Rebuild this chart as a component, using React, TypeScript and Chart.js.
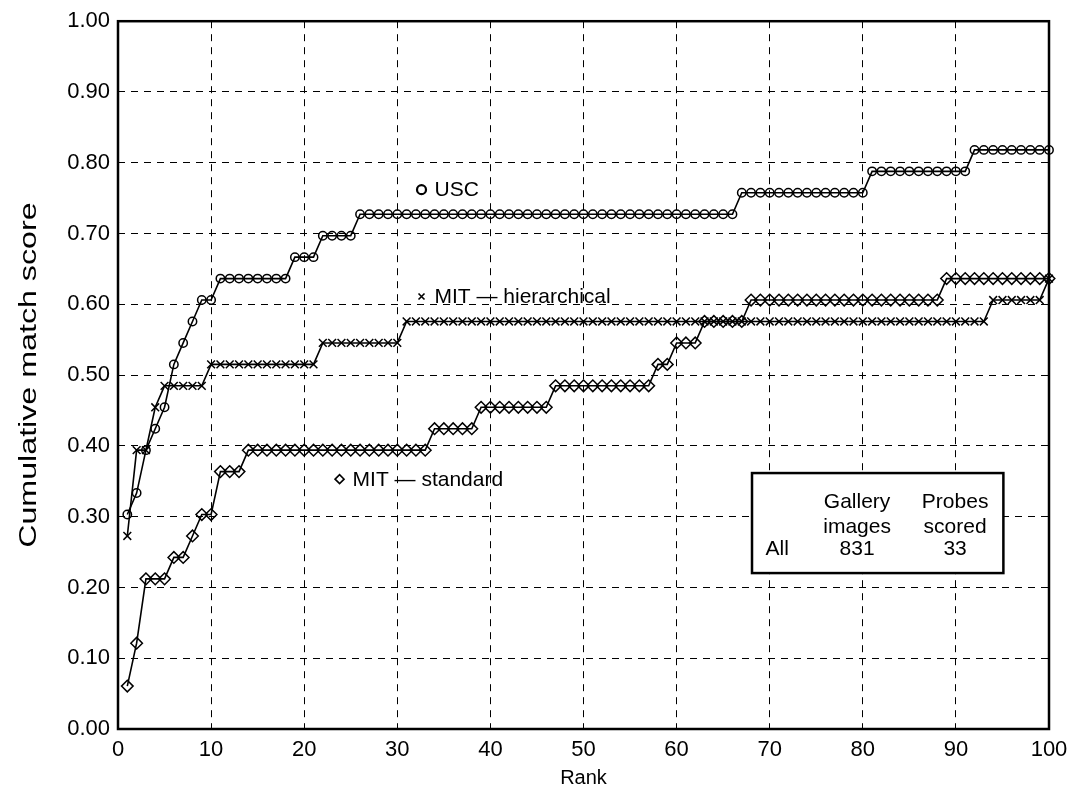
import React, { useEffect, useRef } from "react";
import { Chart, registerables } from "chart.js";

Chart.register(...registerables);

// Rank axis (1..100) and the number of probes correctly identified within each rank.
const ranks: number[] = Array.from({ length: 100 }, (_, i) => i + 1);
const probesScored = 33;
const galleryImages = 831;

const uscHits = [
  10, 11, 13, 14, 15, 17, 18, 19, 20, 20,
  21, 21, 21, 21, 21, 21, 21, 21, 22, 22,
  22, 23, 23, 23, 23, 24, 24, 24, 24, 24,
  24, 24, 24, 24, 24, 24, 24, 24, 24, 24,
  24, 24, 24, 24, 24, 24, 24, 24, 24, 24,
  24, 24, 24, 24, 24, 24, 24, 24, 24, 24,
  24, 24, 24, 24, 24, 24, 25, 25, 25, 25,
  25, 25, 25, 25, 25, 25, 25, 25, 25, 25,
  26, 26, 26, 26, 26, 26, 26, 26, 26, 26,
  26, 27, 27, 27, 27, 27, 27, 27, 27, 27,
];

const mitHierarchicalHits = [
  9, 13, 13, 15, 16, 16, 16, 16, 16, 17,
  17, 17, 17, 17, 17, 17, 17, 17, 17, 17,
  17, 18, 18, 18, 18, 18, 18, 18, 18, 18,
  19, 19, 19, 19, 19, 19, 19, 19, 19, 19,
  19, 19, 19, 19, 19, 19, 19, 19, 19, 19,
  19, 19, 19, 19, 19, 19, 19, 19, 19, 19,
  19, 19, 19, 19, 19, 19, 19, 19, 19, 19,
  19, 19, 19, 19, 19, 19, 19, 19, 19, 19,
  19, 19, 19, 19, 19, 19, 19, 19, 19, 19,
  19, 19, 19, 20, 20, 20, 20, 20, 20, 21,
];

const mitStandardHits = [
  2, 4, 7, 7, 7, 8, 8, 9, 10, 10,
  12, 12, 12, 13, 13, 13, 13, 13, 13, 13,
  13, 13, 13, 13, 13, 13, 13, 13, 13, 13,
  13, 13, 13, 14, 14, 14, 14, 14, 15, 15,
  15, 15, 15, 15, 15, 15, 16, 16, 16, 16,
  16, 16, 16, 16, 16, 16, 16, 17, 17, 18,
  18, 18, 19, 19, 19, 19, 19, 20, 20, 20,
  20, 20, 20, 20, 20, 20, 20, 20, 20, 20,
  20, 20, 20, 20, 20, 20, 20, 20, 21, 21,
  21, 21, 21, 21, 21, 21, 21, 21, 21, 21,
];

const rankTicks = [0, 10, 20, 30, 40, 50, 60, 70, 80, 90, 100];
const scoreTicks = [0, 0.1, 0.2, 0.3, 0.4, 0.5, 0.6, 0.7, 0.8, 0.9, 1.0];

const xAxisTitle = "Rank";
const yAxisTitle = "Cumulative match score";

// In-plot series labels, anchored in data space (rank, score).
const seriesNames = ["USC", "MIT \u2014 hierarchical", "MIT \u2014 standard"];
const seriesMarkers = ["circle", "cross", "diamond"];
const labelRanks = [32.6, 32.6, 23.8];
const labelScores = [0.762, 0.611, 0.353];

// Summary table corners in data space.
const tableRanks = [68.1, 95.1];
const tableScores = [0.2203, 0.3616];
const tableHeader = [["", ""], ["Gallery", "images"], ["Probes", "scored"]];
const tableRow = ["All", String(galleryImages), String(probesScored)];

const FONT = "'Liberation Sans', Arial, Helvetica, sans-serif";

const toPoints = (hits: number[]) =>
  hits.map((h, i) => ({ x: ranks[i], y: h / probesScored }));

function drawMarker(ctx: CanvasRenderingContext2D, kind: string, x: number, y: number) {
  ctx.save();
  ctx.strokeStyle = "#000";
  ctx.beginPath();
  if (kind === "circle") {
    ctx.lineWidth = 2.2;
    ctx.arc(x, y, 4.5, 0, Math.PI * 2);
  } else if (kind === "cross") {
    ctx.lineWidth = 1.6;
    const s = 3;
    ctx.moveTo(x - s, y - s);
    ctx.lineTo(x + s, y + s);
    ctx.moveTo(x + s, y - s);
    ctx.lineTo(x - s, y + s);
  } else {
    ctx.lineWidth = 1.6;
    const s = 4.5;
    ctx.moveTo(x - s, y);
    ctx.lineTo(x, y - s);
    ctx.lineTo(x + s, y);
    ctx.lineTo(x, y + s);
    ctx.closePath();
  }
  ctx.stroke();
  ctx.restore();
}

const overlayPlugin = {
  id: "overlay",
  afterDatasetsDraw(chart: any) {
    const { ctx, chartArea, scales } = chart;
    const xs = scales.x;
    const ys = scales.y;
    ctx.save();

    // Frame around the plotting area
    ctx.strokeStyle = "#000";
    ctx.lineWidth = 2.5;
    ctx.strokeRect(
      chartArea.left,
      chartArea.top,
      chartArea.right - chartArea.left,
      chartArea.bottom - chartArea.top
    );

    // Series labels with their marker glyphs
    ctx.font = `21px ${FONT}`;
    ctx.fillStyle = "#000";
    ctx.textBaseline = "middle";
    ctx.textAlign = "left";
    seriesNames.forEach((name, i) => {
      const px = xs.getPixelForValue(labelRanks[i]);
      const py = ys.getPixelForValue(labelScores[i]);
      drawMarker(ctx, seriesMarkers[i], px, py);
      ctx.fillText(name, px + 13, py + 1);
    });

    // Summary table
    const left = xs.getPixelForValue(tableRanks[0]);
    const right = xs.getPixelForValue(tableRanks[1]);
    const top = ys.getPixelForValue(tableScores[1]);
    const bottom = ys.getPixelForValue(tableScores[0]);
    const w = right - left;
    const h = bottom - top;
    ctx.fillStyle = "#fff";
    ctx.fillRect(left, top, w, h);
    ctx.strokeStyle = "#000";
    ctx.lineWidth = 2.5;
    ctx.strokeRect(left, top, w, h);

    const colCenters = [0.1, 0.418, 0.808].map((f) => left + f * w);
    const rowCenters = [0.29, 0.54, 0.765].map((f) => top + f * h);
    ctx.fillStyle = "#000";
    ctx.textAlign = "center";
    ctx.font = `21px ${FONT}`;
    tableHeader.forEach((lines, c) => {
      lines.forEach((t, r) => {
        if (t) ctx.fillText(t, colCenters[c], rowCenters[r]);
      });
    });
    tableRow.forEach((t, c) => ctx.fillText(t, colCenters[c], rowCenters[2]));

    // Vertical axis title, set in a narrow (condensed) face
    const midY = (chartArea.top + chartArea.bottom) / 2;
    ctx.save();
    ctx.translate(30, midY);
    ctx.rotate(-Math.PI / 2);
    ctx.scale(1.4, 1);
    ctx.font = `23px ${FONT}`;
    ctx.textAlign = "center";
    ctx.textBaseline = "middle";
    ctx.fillText(yAxisTitle, 0, 0);
    ctx.restore();

    ctx.restore();
  },
};

export default function App() {
  const canvasRef = useRef<HTMLCanvasElement>(null);

  useEffect(() => {
    const canvas = canvasRef.current;
    if (!canvas) return;

    const lineStyle = {
      showLine: true,
      borderColor: "#000",
      borderWidth: 1.6,
      pointBorderColor: "#000",
      pointBackgroundColor: "rgba(0,0,0,0)",
      pointBorderWidth: 1.5,
      tension: 0,
      clip: false as const,
    };

    const chart = new Chart(canvas, {
      type: "scatter",
      data: {
        datasets: [
          {
            ...lineStyle,
            label: seriesNames[0],
            data: toPoints(uscHits),
            pointStyle: "circle",
            pointRadius: 4.2,
          },
          {
            ...lineStyle,
            label: seriesNames[1],
            data: toPoints(mitHierarchicalHits),
            pointStyle: "crossRot",
            pointRadius: 5.5,
          },
          {
            ...lineStyle,
            label: seriesNames[2],
            data: toPoints(mitStandardHits),
            pointStyle: "rectRot",
            pointRadius: 5.8,
          },
        ],
      },
      options: {
        responsive: false,
        animation: false,
        devicePixelRatio: 1,
        layout: { padding: { left: 0, right: 30, top: 21, bottom: 0 } },
        plugins: {
          legend: { display: false },
          tooltip: { enabled: false },
        },
        scales: {
          x: {
            type: "linear",
            min: 0,
            max: 100,
            afterBuildTicks: (s: any) => {
              s.ticks = rankTicks.map((v) => ({ value: v }));
            },
            afterFit: (s: any) => {
              s.height = 68;
            },
            grid: { color: "#000", lineWidth: 1, drawTicks: false },
            border: { display: false, dash: [7, 6] },
            ticks: {
              color: "#000",
              font: { family: FONT, size: 22 },
              padding: 8,
              maxRotation: 0,
              autoSkip: false,
            },
            title: {
              display: true,
              text: xAxisTitle,
              color: "#000",
              font: { family: FONT, size: 20 },
              padding: { top: 0, bottom: 7 },
            },
          },
          y: {
            type: "linear",
            min: 0,
            max: 1,
            afterBuildTicks: (s: any) => {
              s.ticks = scoreTicks.map((v) => ({ value: v }));
            },
            afterFit: (s: any) => {
              s.width = 118;
            },
            grid: { color: "#000", lineWidth: 1, drawTicks: false },
            border: { display: false, dash: [7, 6] },
            ticks: {
              color: "#000",
              font: { family: FONT, size: 22 },
              padding: 8,
              autoSkip: false,
              callback: (v: any) => Number(v).toFixed(2),
            },
            title: { display: false },
          },
        },
      },
      plugins: [overlayPlugin],
    });

    return () => chart.destroy();
  }, []);

  return (
    <div
      style={{
        position: "absolute",
        left: 0,
        top: 0,
        width: 1079,
        height: 797,
        background: "#fff",
      }}
    >
      <canvas
        ref={canvasRef}
        width={1079}
        height={797}
        style={{ display: "block", width: 1079, height: 797 }}
      />
    </div>
  );
}
